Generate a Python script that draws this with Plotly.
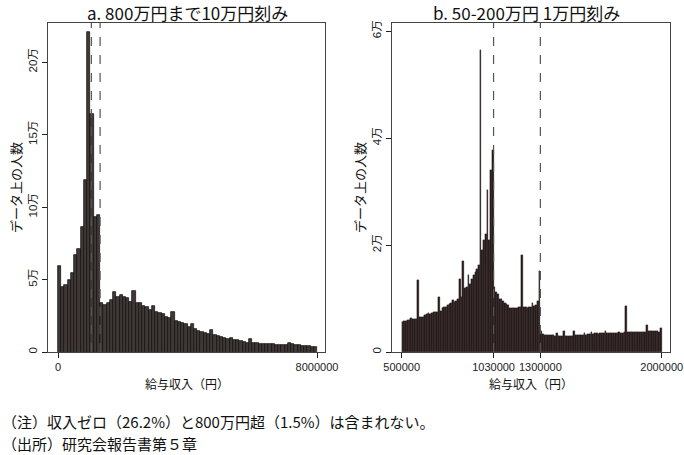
import plotly.graph_objects as go
from plotly.subplots import make_subplots

# panel a: 10万円 bins from 0 to 800万円 (counts, persons)
left_bins = list(range(0, 8000000, 100000))
left_counts = [
    59500, 45000, 46200, 50000, 54700, 66900, 71300, 86400, 118600, 221000,
    164000, 92900, 94300, 33800, 32600, 33600, 35600, 41600, 38200, 39500,
    38200, 37500, 34700, 42000, 34000, 33600, 32000, 31300, 29000, 31700,
    27400, 27100, 26000, 24400, 23700, 27400, 21400, 20900, 19800, 19100,
    17500, 19100, 15600, 14700, 14000, 12900, 12400, 15200, 11700, 11000,
    10600, 9900, 9200, 9900, 8300, 8000, 7400, 7100, 6400, 9200,
    6000, 6000, 5700, 5500, 5500, 5300, 5300, 5000, 4800, 4800,
    4800, 6400, 5300, 5000, 4600, 4400, 4100, 3900, 3700, 3200,
]

# panel b: 1万円 bins from 50万円 to 200万円
right_bins = list(range(500000, 2000000, 10000))
right_counts = [
    5700, 5800, 5800, 5900, 6000, 6300, 6100, 6100, 6200, 13500,
    6500, 6500, 6600, 7000, 7100, 7200, 7100, 7300, 7400, 7500,
    7500, 10200, 7700, 8200, 8400, 8500, 8800, 8900, 9100, 9800,
    9400, 9600, 10000, 13600, 10300, 17000, 11900, 12200, 14400, 12800,
    13600, 14400, 15000, 15600, 16200, 56400, 19000, 21000, 22000, 30300,
    21000, 34000, 37800, 12200, 11300, 10800, 9900, 10000, 9500, 9100,
    8900, 8700, 8300, 8200, 8300, 8300, 8300, 8400, 8400, 18100,
    8500, 8400, 8300, 8500, 8500, 9200, 8600, 8800, 9600, 15200,
    4000, 3400, 3200, 3200, 3100, 3100, 3100, 3100, 3000, 3500,
    2900, 2900, 2900, 4000, 2900, 3000, 3000, 3000, 3000, 4000,
    3100, 3100, 3100, 3200, 3100, 3600, 3200, 3300, 3300, 3800,
    3400, 3500, 3500, 3400, 3500, 3500, 3500, 4000, 3500, 3600,
    3600, 3600, 3500, 3600, 3600, 3700, 3600, 3600, 3700, 8600,
    3700, 3800, 3800, 3700, 3800, 3800, 3800, 3800, 3700, 3800,
    3800, 5000, 3900, 4000, 4000, 3900, 4000, 3900, 3800, 4400,
]

thresholds = [1030000, 1300000]
left_xticks = [0, 8000000]
right_xticks = [500000, 1030000, 1300000, 2000000]
left_yticks = [0, 50000, 100000, 150000, 200000]
left_ylabels = ['0', '5万', '10万', '15万', '20万']
right_yticks = [0, 20000, 40000, 60000]
right_ylabels = ['0', '2万', '4万', '6万']

W, H = 684, 455
FONT = 'Liberation Sans, Noto Sans CJK JP, sans-serif'
JP = 'Noto Sans CJK JP, sans-serif'


def py(px):
    return 1 - px / H


fig = make_subplots(rows=1, cols=2)

fig.add_trace(go.Bar(
    x=[b + 50000 for b in left_bins], y=left_counts, width=100000,
    marker=dict(color='#403836', line=dict(color='#0d0a0a', width=0.7)),
    showlegend=False,
), row=1, col=1)

fig.add_trace(go.Bar(
    x=[b + 5000 for b in right_bins], y=right_counts, width=10000,
    marker=dict(color='#2a1f1d', line=dict(color='#1a1110', width=0.3)),
    showlegend=False,
), row=1, col=2)

axis_common = dict(showline=True, linecolor='#444', linewidth=1, mirror=True,
                   ticks='outside', ticklen=5, tickcolor='#222',
                   showgrid=False, zeroline=False, automargin=False,
                   tickfont=dict(family=FONT, size=11, color='#222'))

fig.update_xaxes(**axis_common)
fig.update_yaxes(**axis_common)
fig.update_yaxes(tickfont=dict(family=FONT, size=11.5, color='#222'))

fig.update_layout(
    width=W, height=H,
    margin=dict(l=0, r=0, t=0, b=0),
    paper_bgcolor='white', plot_bgcolor='white',
    bargap=0,
    xaxis=dict(domain=[48 / W, 325 / W], range=[-308900, 8247000],
               tickvals=left_xticks, ticktext=['0', '8000000']),
    xaxis2=dict(domain=[392 / W, 670 / W], range=[444000, 2047900],
                tickvals=right_xticks,
                ticktext=[str(v) for v in right_xticks]),
    yaxis=dict(domain=[py(352), py(23)], range=[0, 226900],
               tickvals=left_yticks, ticktext=left_ylabels, tickangle=-90),
    yaxis2=dict(domain=[py(352), py(23)], range=[0, 61500],
                tickvals=right_yticks, ticktext=right_ylabels, tickangle=-90),
)

for xref in ['x', 'x2']:
    for t in thresholds:
        fig.add_shape(type='line', xref=xref, yref=xref.replace('x', 'y') + ' domain',
                      x0=t, x1=t, y0=0, y1=1,
                      line=dict(color='#555', width=1.2, dash='dash'))

annotations = [
    dict(x=187 / W, y=py(12), text='a. 800万円まで10万円刻み', size=17),
    dict(x=526 / W, y=py(12), text='b. 50-200万円 1万円刻み', size=17),
    dict(x=187 / W, y=py(383), text='給与収入（円）', size=12),
    dict(x=531 / W, y=py(383), text='給与収入（円）', size=12),
    dict(x=15 / W, y=py(188), text='データ上の人数', size=13, angle=-90),
    dict(x=359 / W, y=py(188), text='データ上の人数', size=13, angle=-90),
]
for a in annotations:
    fig.add_annotation(x=a['x'], y=a['y'], xref='paper', yref='paper',
                       text=a['text'], showarrow=False, textangle=a.get('angle', 0),
                       font=dict(family=JP, size=a['size'], color='#111'),
                       xanchor='center', yanchor='middle')

notes = ['（注）収入ゼロ（26.2%）と800万円超（1.5%）は含まれない。',
         '（出所）研究会報告書第５章']
for i, n in enumerate(notes):
    fig.add_annotation(x=0, y=py(421 + 22 * i), xref='paper', yref='paper',
                       text=n, showarrow=False, xanchor='left', yanchor='middle',
                       font=dict(family=JP, size=15, color='#111'))

fig.write_html('out.html', config={'displayModeBar': False},
               post_script="document.body.style.margin='0';")
